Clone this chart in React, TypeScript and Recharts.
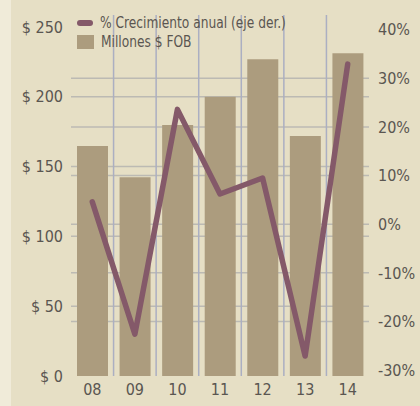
import { Bar, BarChart, CartesianGrid, Line, XAxis, YAxis } from 'recharts'

// Años (categorías del eje X)
const ANIOS = ['08', '09', '10', '11', '12', '13', '14']
// Millones $ FOB (eje izquierdo)
const MILLONES_FOB = [164.7, 142.4, 179.7, 200, 226.9, 171.8, 231.1]
// % crecimiento anual (eje derecho)
const CRECIMIENTO = [4.6, -22.6, 23.6, 6.2, 9.5, -27.1, 32.9]

const TICKS_IZQ = [0, 50, 100, 150, 200, 250]
const TICKS_DER = [-30, -20, -10, 0, 10, 20, 30, 40]
// líneas de grilla visibles (las de los extremos no se dibujan)
const GRILLA_IZQ = [50, 100, 150, 200]
const GRILLA_DER = [-20, -10, 0, 10, 20, 30]

const FONDO = '#e6dfc5'
const COLOR_BARRA = '#ac9c7e'
const COLOR_LINEA = '#845969'
const TEXTO = '#5a5651'
const GRILLA_H = '#bcbab3'
const GRILLA_V = '#abafc2'
const FUENTE = '"DejaVu Sans Condensed", "Liberation Sans Narrow", sans-serif'

const datos = ANIOS.map((a, i) => ({
  anio: a,
  fob: MILLONES_FOB[i],
  crec: CRECIMIENTO[i],
}))

const tick = { fontSize: 16, fill: TEXTO, fontFamily: FUENTE }

// texto de la leyenda, angostado para imitar la fuente condensada original
function TextoLeyenda({ children }: { children: string }) {
  return (
    <span style={{ display: 'inline-block', transform: 'scaleX(0.85)', transformOrigin: 'left center', whiteSpace: 'nowrap' }}>
      {children}
    </span>
  )
}

export default function App() {
  return (
    <div
      style={{
        position: 'fixed',
        left: 0,
        top: 0,
        width: 420,
        height: 406,
        background: '#f0ebd9',
      }}
    >
      <div style={{ position: 'absolute', left: 11, top: 0, width: 409, height: 406, background: FONDO }}>
        <BarChart
          width={409}
          height={406}
          data={datos}
          margin={{ top: 15, right: 0, bottom: 0, left: 0 }}
          barSize={31}
        >
          <CartesianGrid
            yAxisId="izq"
            vertical={false}
            horizontalValues={GRILLA_IZQ}
            stroke={GRILLA_H}
            strokeWidth={1.5}
          />
          <CartesianGrid
            yAxisId="der"
            vertical={false}
            horizontalValues={GRILLA_DER}
            stroke={GRILLA_H}
            strokeWidth={1.5}
          />
          {/* grilla vertical en los límites de cada categoría */}
          <CartesianGrid
            yAxisId="izq"
            horizontal={false}
            stroke={GRILLA_V}
            strokeWidth={1.5}
            verticalCoordinatesGenerator={({ offset }: any) =>
              ANIOS.slice(1).map((_, i) => offset.left + (offset.width * (i + 1)) / ANIOS.length)
            }
          />
          <XAxis
            dataKey="anio"
            height={30}
            axisLine={false}
            tickLine={false}
            tick={tick}
            interval={0}
          />
          <YAxis
            yAxisId="izq"
            width={60}
            domain={[0, 258.5]}
            ticks={TICKS_IZQ}
            axisLine={false}
            tickLine={false}
            tick={tick}
            tickFormatter={(v) => `$ ${v}`}
          />
          <YAxis
            yAxisId="der"
            orientation="right"
            width={51}
            domain={[-31.2, 43]}
            ticks={TICKS_DER}
            axisLine={false}
            tickLine={false}
            tickMargin={3}
            tick={{ ...tick, textAnchor: 'start' }}
            tickFormatter={(v) => `${v}%`}
          />
          <Bar yAxisId="izq" dataKey="fob" fill={COLOR_BARRA} isAnimationActive={false} />
          <Line
            yAxisId="der"
            dataKey="crec"
            type="linear"
            stroke={COLOR_LINEA}
            strokeWidth={5.5}
            strokeLinecap="round"
            strokeLinejoin="round"
            dot={false}
            activeDot={false}
            isAnimationActive={false}
          />
        </BarChart>
        {/* leyenda */}
        <div
          style={{
            position: 'absolute',
            left: 66,
            top: 13,
            fontFamily: FUENTE,
            fontSize: 16,
            color: TEXTO,
            lineHeight: '19px',
          }}
        >
          <div style={{ display: 'flex', alignItems: 'center' }}>
            <span
              style={{
                display: 'inline-block',
                width: 16,
                height: 6,
                borderRadius: 3,
                background: COLOR_LINEA,
                marginRight: 7,
              }}
            />
            <TextoLeyenda>% Crecimiento anual (eje der.)</TextoLeyenda>
          </div>
          <div style={{ display: 'flex', alignItems: 'center' }}>
            <span
              style={{
                display: 'inline-block',
                width: 17,
                height: 14,
                background: COLOR_BARRA,
                marginRight: 7,
              }}
            />
            <TextoLeyenda>Millones $ FOB</TextoLeyenda>
          </div>
        </div>
      </div>
    </div>
  )
}
